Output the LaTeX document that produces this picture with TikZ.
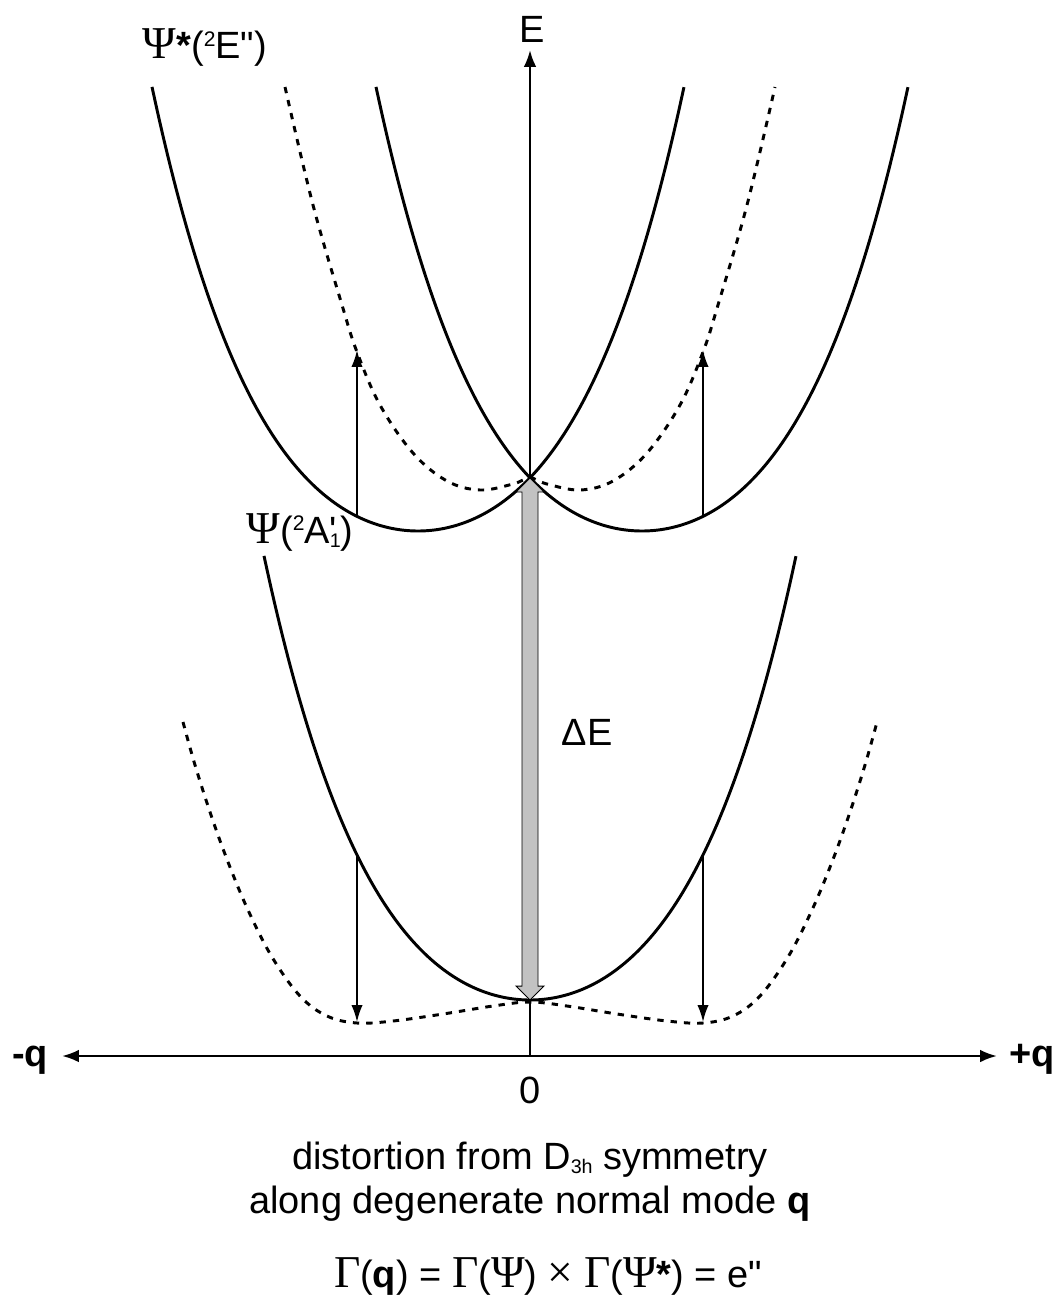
\documentclass[tikz,border=0pt]{standalone}
\usepackage{fontspec}
\setmainfont{Liberation Sans}
\newfontfamily\greekfont[Scale=1.2]{Liberation Serif}
\usetikzlibrary{arrows.meta,positioning}
\newcommand\upidx[1]{\raisebox{9pt}{\fontsize{15}{15}\selectfont #1}}
\newcommand\dnidx[1]{\raisebox{-3pt}{\fontsize{14}{14}\selectfont #1}}

\begin{document}
\begin{tikzpicture}[x=0.025cm, y=-0.025cm,
    font=\fontsize{27}{32}\selectfont,
    pes/.style={line width=2.1pt},
    pesdash/.style={line width=2.1pt, dash pattern=on 4.5pt off 5pt},
    trans/.style={line width=1.3pt, -{Latex[length=12pt,width=8pt]}},
    axis/.style={line width=1.8pt},
    gaparrow/.style={draw=black, line width=0.7pt, fill=black!24}]
  \useasboundingbox (0,0) rectangle (1056,1301);

  % upper surfaces (undistorted, solid)
  \draw[pes] plot[domain=-2.66:2.66, samples=90, smooth]
    ({418+100*\x}, {531-38*\x*\x-3.5*\x*\x*\x*\x});
  \draw[pes] plot[domain=-2.66:2.66, samples=90, smooth]
    ({642+100*\x}, {531-38*\x*\x-3.5*\x*\x*\x*\x});
  % ground surface (solid)
  \draw[pes] plot[domain=-2.66:2.66, samples=90, smooth]
    ({530+100*\x}, {1000-38*\x*\x-3.5*\x*\x*\x*\x});

  % coupled surfaces (dashed)
  \draw[pesdash] plot[smooth, tension=0.6] coordinates {
    (285,87) (313,205) (342,305) (357,352) (380,405) (413,453) (447,481)
    (480,490) (513,484) (530,478) (547,484) (580,490) (613,481) (647,453)
    (680,405) (703,352) (718,305) (747,205) (775,87)};
  \draw[pesdash] plot[smooth, tension=0.6] coordinates {
    (183,722) (195,765) (211,815) (228,862) (248,910) (272,957) (300,996)
    (327,1016) (357,1023) (393,1021) (443,1014) (493,1006) (530,1002)
    (567,1006) (617,1014) (667,1021) (703,1023) (733,1016) (760,996)
    (788,957) (812,910) (832,862) (849,815) (865,765) (877,722)};

  % axes
  \coordinate (qneg) at (62,1056);
  \coordinate (qpos) at (997,1056);
  \coordinate (o) at (530,1056);
  \coordinate (Etop) at (530,50);
  \draw[axis, {Latex[length=12pt,width=9pt]}-{Latex[length=12pt,width=9pt]}] (qneg) -- (qpos);
  \draw[axis, -{Latex[length=12pt,width=9pt]}] (o) -- (Etop);

  % vertical transitions
  \coordinate (upL-a) at (357,516);
  \coordinate (upL-b) at (357,350);
  \coordinate (upR-a) at (703,516);
  \coordinate (upR-b) at (703,350);
  \coordinate (dnL-a) at (357,855);
  \coordinate (dnL-b) at (357,1022);
  \coordinate (dnR-a) at (703,855);
  \coordinate (dnR-b) at (703,1022);
  \draw[trans] (upL-a) -- (upL-b);
  \draw[trans] (upR-a) -- (upR-b);
  \draw[trans] (dnL-a) -- (dnL-b);
  \draw[trans] (dnR-a) -- (dnR-b);

  % energy gap
  \coordinate (gap-top) at (530,478);
  \coordinate (gap-bot) at (530,1000);
  \draw[gaparrow] (gap-top) -- ++(14,14) -- ++(-6,0) -- ++(0,494) -- ++(6,0)
    -- (gap-bot) -- ++(-14,-14) -- ++(6,0) -- ++(0,-494) -- ++(-6,0) -- cycle;

  % labels
  \node[anchor=base] (Elbl) at (532,43) {E};
  \node[anchor=base] (excited) at (205,59) {{\greekfont Ψ}\textbf{*}(\upidx{2}E\textquotedbl)};
  \node[anchor=base] (ground) at (300,543) {{\greekfont Ψ}(\upidx{2}A\rlap{\textquotesingle}\dnidx{1})};
  \node[anchor=base west] (gaplbl) at (557,745) {ΔE};
  \node[anchor=base] (zero) at (530,1103) {0};
  \node[anchor=base] (qneglbl) at (30,1066) {\bfseries -q};
  \node[anchor=base] (qposlbl) at (1032,1066) {\bfseries +q};

  % caption
  \node[anchor=base] (cap1) at (530,1169) {distortion from D\dnidx{3h} symmetry};
  \node[anchor=base] (cap2) at (530,1213) {along degenerate normal mode \textbf{q}};
  \node[anchor=base] (cap3) at (548,1287) {{\greekfont Γ}(\textbf{q}) = {\greekfont Γ}({\greekfont Ψ}) {\greekfont ×} {\greekfont Γ}({\greekfont Ψ}\textbf{*}) = e\textquotedbl};
\end{tikzpicture}
\end{document}
